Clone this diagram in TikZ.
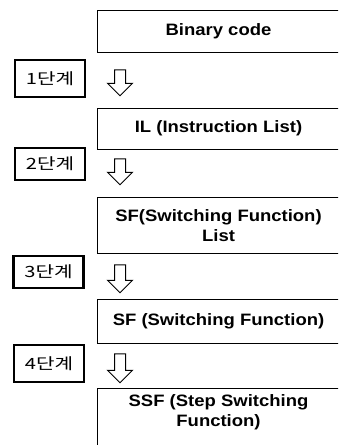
\documentclass[tikz,border=0pt]{standalone}
\usepackage{fontspec}
\usetikzlibrary{shapes.arrows,positioning}
\newfontfamily\boxfont[FakeStretch=1.12]{Liberation Sans}
\newfontfamily\stepfont[FakeStretch=1.3]{Noto Sans CJK KR}
\tikzset{
  mainbox/.style={draw, line width=1pt, minimum width=243pt, inner sep=0pt,
    align=center, font=\boxfont\bfseries\fontsize{16.5}{20}\selectfont},
  boxtext/.style={inner sep=0pt, align=center,
    font=\boxfont\bfseries\fontsize{16.5}{20}\selectfont},
  stepbox/.style={draw, line width=2.4pt, minimum width=70pt, inner sep=0pt,
    font=\stepfont\fontsize{15.5}{18}\selectfont},
  downarrow/.style={draw, line width=1pt, single arrow, rotate=-90,
    inner xsep=0pt, inner ysep=5pt, minimum width=24pt,
    single arrow head extend=7pt}
}
\begin{document}
\begin{tikzpicture}[x=1pt, y=-1pt]
  \useasboundingbox (0,0) rectangle (338,445);
  \clip (0,0) rectangle (338,445);

  % conversion stages
  \node[mainbox, minimum height=42pt] (b1) at (218.5,31) {Binary code};
  \node[mainbox, minimum height=41pt] (b2) at (218.5,128.5) {IL (Instruction List)};
  \node[mainbox, minimum height=56pt] (b3) at (218.5,225.5) {SF(Switching Function)\\List};
  \node[mainbox, minimum height=44pt] (b4) at (218.5,321) {SF (Switching Function)};
  \node[mainbox, minimum height=72pt, anchor=north] (b5) at (218.5,388) {};
  \node[boxtext, below=6pt of b5.north] (b5t) {SSF (Step Switching\\Function)};

  % step labels
  \node[stepbox, minimum height=37pt] (s1) at (50,78.5) {1단계};
  \node[stepbox, minimum height=32pt] (s2) at (50,164) {2단계};
  \node[stepbox, minimum height=32pt] (s3) at (48.5,272) {3단계};
  \node[stepbox, minimum height=37pt] (s4) at (49,363.5) {4단계};

  % hollow down arrows
  \node[downarrow, minimum height=26pt] (a1) at (120,80) {};
  \node[downarrow, minimum height=26pt] (a2) at (120,169) {};
  \node[downarrow, minimum height=28pt] (a3) at (120,276) {};
  \node[downarrow, minimum height=29pt] (a4) at (120,365.5) {};
\end{tikzpicture}
\end{document}
